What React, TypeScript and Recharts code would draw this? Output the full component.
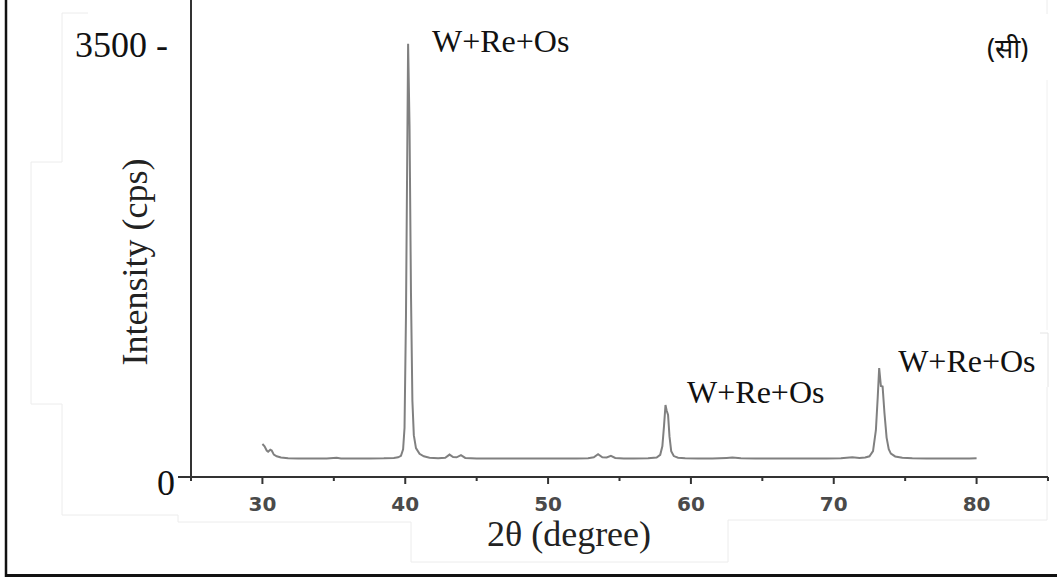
import React from 'react'
import { LineChart, Line, XAxis, YAxis, ReferenceDot } from 'recharts'

const twoTheta = [
  30.0, 30.15, 30.3, 30.4, 30.55, 30.65, 30.8, 31.0, 31.3, 31.8, 32.5, 33.5, 34.5, 35.2, 35.5, 36.5, 37.5, 38.5,
  39.2, 39.5, 39.7, 39.85, 39.95, 40.05, 40.2, 40.3, 40.4, 40.5, 40.6, 40.75, 41.0, 41.3, 41.7, 42.3, 42.8, 43.1,
  43.35, 43.6, 43.9, 44.2, 45.0, 46.0, 47.0, 48.0, 49.0, 50.0, 51.0, 52.0, 52.8, 53.2, 53.5, 53.8, 54.1, 54.4,
  54.7, 55.3, 56.0, 57.0, 57.6, 57.85, 58.0, 58.12, 58.22, 58.3, 58.4, 58.5, 58.62, 58.8, 59.1, 59.6, 60.5, 61.5,
  62.5, 62.9, 63.5, 64.5, 65.5, 66.5, 67.5, 68.5, 69.5, 70.5, 71.3, 71.8, 72.2, 72.5, 72.75, 72.95, 73.08, 73.18,
  73.3, 73.42, 73.55, 73.7, 73.85, 74.0, 74.3, 74.8, 75.5, 76.5, 77.5, 78.5, 79.5, 80.0,
]
const intensity = [
  268, 250, 215, 205, 222, 215, 182, 168, 158, 152, 150, 151, 150, 156, 151, 150, 151, 152,
  155, 160, 172, 225, 400, 1300, 3520, 2850, 1500, 620, 340, 235, 188, 168, 157, 153, 156, 182,
  162, 160, 178, 155, 151, 150, 151, 150, 151, 150, 151, 151, 153, 160, 185, 160, 158, 172,
  155, 150, 151, 152, 158, 180, 250, 420, 585, 540, 505, 330, 210, 170, 156, 152, 151, 150,
  155, 158, 152, 151, 150, 151, 150, 151, 151, 152, 160, 155, 158, 168, 210, 380, 650, 885,
  740, 735, 520, 320, 225, 190, 167, 156, 152, 151, 150, 151, 150, 152,
]

const xTicks = [25, 30, 35, 40, 45, 50, 55, 60, 65, 70, 75, 80, 85]
const yTicks = [0, 3500]

const peakLabels = ['W+Re+Os', 'W+Re+Os', 'W+Re+Os']
const peakLabelX = [41.87, 59.73, 74.51]
const peakLabelY = [3452, 601, 853]

const data = twoTheta.map((x, i) => ({ x, y: intensity[i] }))

const serif = '"Liberation Serif", "Times New Roman", serif'

function XTick(props: any) {
  const { x, y, payload } = props
  const v = payload.value as number
  const major = v % 10 === 0
  const labelled = major && v >= 30 && v <= 80
  return (
    <g>
      <line x1={x} x2={x} y1={y} y2={y + (major ? 7 : 4)} stroke="#333" strokeWidth={2} />
      {labelled && (
        <text x={x} y={y + 34} textAnchor="middle" fontFamily='"DejaVu Sans", sans-serif' fontWeight={700} fontSize={20} fill="#4a4a4a">
          {v}
        </text>
      )}
    </g>
  )
}

function YTick(props: any) {
  const { x, y, payload } = props
  if (payload.value === 0) {
    return (
      <g>
        <line x1={x - 13} x2={x} y1={y} y2={y} stroke="#333" strokeWidth={2} />
        <text x={x - 16} y={y + 18} textAnchor="end" fontFamily={serif} fontSize={36} fill="#111">0</text>
      </g>
    )
  }
  return (
    <text x={x - 23} y={y + 11} textAnchor="end" fontFamily={serif} fontSize={36} fill="#111">
      {payload.value} -
    </text>
  )
}

function PeakLabel(props: any) {
  const { viewBox, value } = props
  return (
    <text x={viewBox.x} y={viewBox.y} fontFamily={serif} fontSize={32} fill="#111">
      {value}
    </text>
  )
}

function YTitle(props: any) {
  const { viewBox } = props
  const cx = viewBox.x + 147
  const cy = viewBox.y + 262
  return (
    <text x={cx} y={cy} transform={`rotate(-90 ${cx} ${cy})`} textAnchor="middle" fontFamily={serif} fontSize={36} fill="#222">
      Intensity (cps)
    </text>
  )
}

function XTitle(props: any) {
  const { viewBox } = props
  return (
    <text x={viewBox.x + 378} y={viewBox.y + 69} textAnchor="middle" fontFamily={serif} fontSize={36} fill="#222">
      2θ (degree)
    </text>
  )
}

export default function App() {
  return (
    <div style={{ position: 'absolute', left: 0, top: 0, width: 1057, height: 581, background: '#fff' }}>
      {/* faint pasted-box edges and the page frame */}
      <svg width={1057} height={581} style={{ position: 'absolute', left: 0, top: 0, pointerEvents: 'none' }}>
        <polyline
          points="88,13 62,13 62,162 31,162 31,404 62,404 62,515 178,515 178,522 411,522 411,562 728,562 728,520 1047,520 1047,387"
          fill="none" stroke="#ececec" strokeWidth={1}
        />
        <polyline points="1040,333 1048,333 1048,387" fill="none" stroke="#e4e4e4" strokeWidth={1} />
        <line x1={1047} x2={1047} y1={0} y2={14} stroke="#ececec" />
        <line x1={1047} x2={1047} y1={80} y2={330} stroke="#f0f0f0" />
        <line x1={6} x2={6} y1={0} y2={577} stroke="#111" strokeWidth={2.5} />
        <line x1={5} x2={1057} y1={575.5} y2={575.5} stroke="#111" strokeWidth={3} />
        <text x={987} y={58} fontFamily='"Noto Sans", "DejaVu Sans", sans-serif' fontSize={27} fill="#111">(सी)</text>
      </svg>
      <LineChart width={1057} height={581} data={data} margin={{ top: 0, right: 9, bottom: 0, left: 0 }} style={{ position: 'absolute', left: 0, top: 0 }}>
        <XAxis
          type="number"
          dataKey="x"
          domain={[25, 85]}
          ticks={xTicks}
          interval={0}
          allowDataOverflow
          height={104}
          tickSize={0}
          tickMargin={0}
          tickLine={false}
          axisLine={{ stroke: '#333', strokeWidth: 2 }}
          tick={<XTick />}
          label={{ content: XTitle }}
        />
        <YAxis
          type="number"
          domain={[0, 3875]}
          ticks={yTicks}
          interval={0}
          allowDataOverflow
          width={191}
          tickSize={0}
          tickMargin={0}
          tickLine={false}
          axisLine={{ stroke: '#333', strokeWidth: 2 }}
          tick={<YTick />}
          label={{ content: YTitle }}
        />
        <Line type="linear" dataKey="y" stroke="#808080" strokeWidth={2} dot={false} isAnimationActive={false} />
        {peakLabels.map((t, i) => (
          <ReferenceDot
            key={i}
            x={peakLabelX[i]}
            y={peakLabelY[i]}
            r={0}
            fill="none"
            stroke="none"
            ifOverflow="visible"
            label={{ value: t, content: PeakLabel }}
          />
        ))}
      </LineChart>
    </div>
  )
}
